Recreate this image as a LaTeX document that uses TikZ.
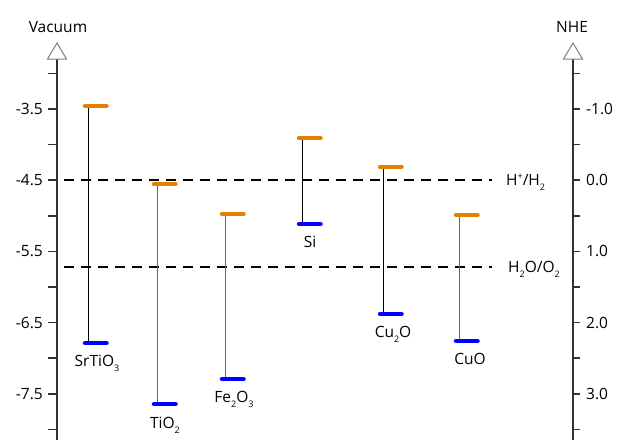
\documentclass[tikz,border=0pt]{standalone}
\usepackage{fontspec}
\setmainfont{Open Sans}
\definecolor{cborange}{RGB}{228,128,0}
\definecolor{vbblue}{RGB}{0,0,255}
\definecolor{axisgray}{RGB}{50,50,50}
\newcommand\subs[1]{\raisebox{-5pt}{\fontsize{9}{9}\selectfont #1}}
\newcommand\sups[1]{\raisebox{6pt}{\fontsize{9}{9}\selectfont #1}}
\begin{document}
\begin{tikzpicture}[x=1pt,y=-1pt,
  txt/.style={font=\fontsize{15.5}{17}\selectfont, inner sep=0pt},
  axisline/.style={line width=1.8pt, draw=axisgray},
  tick/.style={line width=1.5pt, draw=axisgray},
  cbbar/.style={line width=4.5pt, line cap=round, draw=cborange},
  vbbar/.style={line width=4.5pt, line cap=round, draw=vbblue},
  gapline/.style={line width=1pt},
  refline/.style={line width=2pt, dash pattern=on 10pt off 7pt},
  arrowhead/.style={draw=gray, fill=white, line width=1pt}]
\useasboundingbox (0,0) rectangle (621,440);
% axes
\coordinate (lbot) at (57,440);
\coordinate (rbot) at (573,440);
\coordinate (ltop) at (57,59);
\coordinate (rtop) at (573,59);
\draw[axisline] (lbot) -- (ltop);
\draw[axisline] (rbot) -- (rtop);
\draw[arrowhead] (47.5,59) -- (57,43) -- (66.5,59) -- cycle;
\draw[arrowhead] (563.5,59) -- (573,43) -- (582.5,59) -- cycle;
\node[txt, anchor=base] (vac) at (58,32) {Vacuum};
\node[txt, anchor=base] (nhe) at (572,32) {NHE};
% ticks
\foreach \i in {0,...,10} {
  \pgfmathsetmacro\yy{73.4+35.6*\i}
  \draw[tick] (48,\yy) -- (57,\yy);
  \draw[tick] (573,\yy) -- (580,\yy);
}
\foreach \lab/\yy in {-3.5/109,-4.5/180.2,-5.5/251.4,-6.5/322.6,-7.5/393.8} {
  \node[txt, anchor=east] at (43,\yy) {\lab};
}
\foreach \lab/\yy in {-1.0/109,0.0/180.2,1.0/251.4,2.0/322.6,3.0/393.8} {
  \node[txt, anchor=west] at (586,\yy) {\lab};
}
% reference levels
\coordinate (h2a) at (64,180);
\coordinate (h2b) at (492,180);
\coordinate (o2a) at (64,267);
\coordinate (o2b) at (492,267);
\draw[refline] (h2a) -- (h2b);
\draw[refline] (o2a) -- (o2b);
\node[txt, anchor=base west] (hlab) at (506,185) {H\sups{+}/H\subs{2}};
\node[txt, anchor=base west] (olab) at (508,272) {H\subs{2}O/O\subs{2}};
% materials
\foreach \n/\x/\c/\v/\col in {sr/88/106/343/black, ti/157/184/404/black!60, fe/225/214/379/black!60, si/302/138/224/black, cuu/383/167/314/black, cuo/459/215/341/black!60} {
  \coordinate (\n cb) at (\x,\c);
  \coordinate (\n vb) at (\x,\v);
  \draw[gapline, draw=\col] (\n cb) -- (\n vb);
  \draw[cbbar] (\x-3,\c) -- (\x+18.5,\c);
  \draw[vbbar] (\x-3,\v) -- (\x+18.5,\v);
}
\node[txt, anchor=base] (srl) at (97,366) {SrTiO\subs{3}};
\node[txt, anchor=base] (til) at (165,428) {TiO\subs{2}};
\node[txt, anchor=base] (fel) at (234,402) {Fe\subs{2}O\subs{3}};
\node[txt, anchor=base] (sil) at (310,247) {Si};
\node[txt, anchor=base] (cuul) at (393,337) {Cu\subs{2}O};
\node[txt, anchor=base] (cuol) at (470,364) {CuO};
\end{tikzpicture}
\end{document}
